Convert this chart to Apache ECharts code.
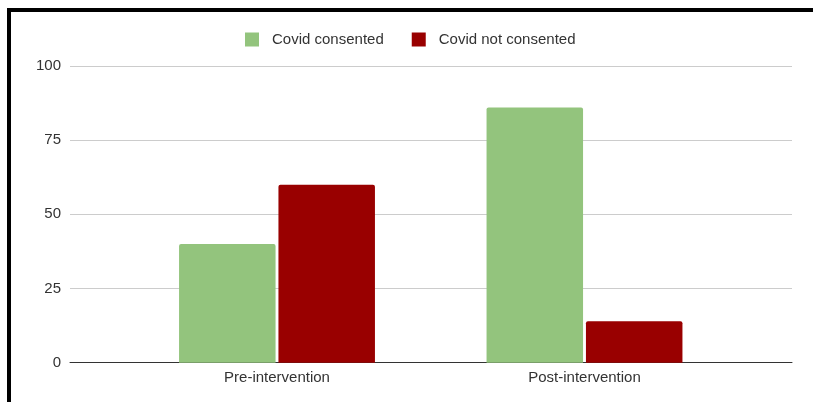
<!DOCTYPE html>
<html>
<head>
<meta charset="utf-8">
<script src="https://cdn.jsdelivr.net/npm/echarts@6/dist/echarts.min.js"></script>
<style>
  html, body { margin: 0; padding: 0; background: #fff; }
  #chart { width: 813px; height: 402px; }
</style>
</head>
<body>
<div id="chart"></div>
<script>
// Consent status before and after the intervention (percent)
const categories = ['Pre-intervention', 'Post-intervention'];
const seriesNames = ['Covid consented', 'Covid not consented'];
const consented = [40, 86];
const notConsented = [60, 14];
const yTicks = [0, 25, 50, 75, 100];

const FONT = '"Liberation Sans", Arial, Helvetica, sans-serif';
const chart = echarts.init(document.getElementById('chart'), null, { renderer: 'canvas' });

const gridTop = 66;
const gridBottom = 39.3;

chart.setOption({
  backgroundColor: '#ffffff',
  animation: false,
  color: ['#93c47d', '#990000'],
  textStyle: { fontFamily: FONT },
  legend: {
    data: seriesNames,
    left: 240,
    top: 27,
    itemWidth: 14,
    itemHeight: 14,
    itemGap: 28,
    icon: 'rect',
    textStyle: { fontSize: 15, color: '#333', fontFamily: FONT, padding: [0, 0, 0, 8] }
  },
  grid: [
    // full-width area carrying the value scale, gridlines and baseline
    { left: 70, right: 21, top: gridTop, bottom: gridBottom },
    // inner area where the two category groups are laid out
    { left: 123.25, right: 74.75, top: gridTop, bottom: gridBottom }
  ],
  xAxis: [
    {
      gridIndex: 0, type: 'value', min: 0, max: 1,
      axisLine: { show: true, onZero: false, lineStyle: { color: '#333', width: 1 } },
      axisTick: { show: false }, axisLabel: { show: false }, splitLine: { show: false }
    },
    {
      gridIndex: 1, type: 'category', data: categories,
      axisLine: { show: false }, axisTick: { show: false },
      axisLabel: { fontSize: 15, color: '#333', fontFamily: FONT, margin: 8 }
    }
  ],
  yAxis: [
    {
      gridIndex: 0, type: 'value', min: yTicks[0], max: yTicks[yTicks.length - 1], interval: 25,
      axisLine: { show: false }, axisTick: { show: false },
      axisLabel: { fontSize: 15, color: '#333', fontFamily: FONT, margin: 9 },
      splitLine: { show: true, lineStyle: { color: '#cccccc', width: 1 } }
    },
    {
      gridIndex: 1, type: 'value', min: yTicks[0], max: yTicks[yTicks.length - 1],
      show: false, splitLine: { show: false }
    }
  ],
  series: [
    {
      name: seriesNames[0], type: 'bar', xAxisIndex: 1, yAxisIndex: 1,
      data: consented, barWidth: 96.5, barGap: '3%',
      itemStyle: { borderRadius: [2, 2, 0, 0] }
    },
    {
      name: seriesNames[1], type: 'bar', xAxisIndex: 1, yAxisIndex: 1,
      data: notConsented, barWidth: 96.5, barGap: '3%',
      itemStyle: { borderRadius: [2, 2, 0, 0] }
    }
  ],
  graphic: [
    // black frame along the top and left edges
    { type: 'rect', shape: { x: 7, y: 8, width: 806, height: 4 }, style: { fill: '#000' }, z: 100 },
    { type: 'rect', shape: { x: 7, y: 8, width: 4, height: 394 }, style: { fill: '#000' }, z: 100 }
  ]
});
</script>
</body>
</html>
